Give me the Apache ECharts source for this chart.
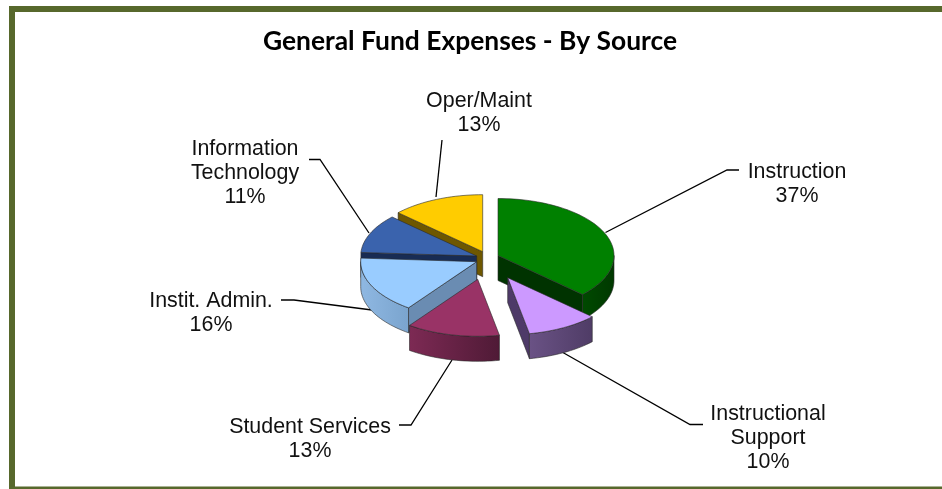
<!DOCTYPE html>
<html>
<head>
<meta charset="utf-8">
<style>html,body{margin:0;padding:0;background:#fff}#chart{width:942px;height:489px}</style>
<script src="https://cdn.jsdelivr.net/npm/echarts@6/dist/echarts.min.js"></script>
</head>
<body>
<div id="chart"></div>
<script>
// Data, clockwise from twelve o'clock
const categories = ['Instruction', 'Instructional\nSupport', 'Student Services', 'Instit. Admin.', 'Information\nTechnology', 'Oper/Maint'];
const seriesValues = [37, 10, 13, 16, 11, 13];
const titleText = 'General Fund Expenses - By Source';

// Appearance and layout of the hand-built 3D pie
const RX = 116, RY = 57, DEPTH = 25;
const apexes = [[498, 255.5], [507.7, 277.7], [477.7, 279.3], [476.7, 261.7], [476.7, 256], [482.7, 251.7]];
const topColors = ['#008000', '#cc99ff', '#993366', '#99ccff', '#3a63ad', '#ffcc00'];
const wallColors = [['#004a00', '#003800'], ['#6a5285', '#4f3c66'], ['#7d2a54', '#4f1a36'], ['#8fb8e2', '#7aa4ce'], ['#1f3560', '#1a2e56'], ['#6b5500', '#6b5500']];
const cutColors = ['#003300', '#4e3a68', '#5f1f40', '#6a8cb2', '#182c54', '#6e5700'];
const labelAnchors = [[797, 184], [768, 438], [310, 439], [211, 313], [245, 173], [479, 113]];
const leaders = [
  [[605.5, 232.5], [727, 170], [739, 170]],
  [[562, 352], [690, 424.5], [703, 424.5]],
  [[452, 360], [411, 425], [399, 425]],
  [[372, 310], [294, 300], [281, 300]],
  [[369, 233], [320, 159.5], [309, 159.5]],
  [[436, 197], [442, 140]]
];
const drawOrder = [5, 0, 4, 3, 2, 1];

const total = seriesValues.reduce((a, b) => a + b, 0);
const starts = [];
seriesValues.reduce((acc, v, i) => { starts[i] = acc; return acc + v; }, 0);

const rad = d => d * Math.PI / 180;
const edgeStyle = { stroke: 'rgba(40,40,40,0.75)', lineWidth: 0.8 };

function arc(c, t1, t2, dy) {
  const n = Math.max(2, Math.ceil(Math.abs(t2 - t1) / 2));
  const pts = [];
  for (let k = 0; k <= n; k++) {
    const t = rad(t1 + (t2 - t1) * k / n);
    pts.push([c[0] + RX * Math.cos(t), c[1] + RY * Math.sin(t) + dy]);
  }
  return pts;
}
function poly(points, fill) {
  return { type: 'polygon', shape: { points }, style: Object.assign({ fill }, edgeStyle) };
}
function cut(c, t, fill) {
  const e = [c[0] + RX * Math.cos(rad(t)), c[1] + RY * Math.sin(rad(t))];
  return poly([c, e, [e[0], e[1] + DEPTH], [c[0], c[1] + DEPTH]], fill);
}

function renderItem(params, api) {
  const i = api.value(2);
  const t1 = -90 + api.value(1) / total * 360;
  const t2 = t1 + api.value(0) / total * 360;
  const c = apexes[i];
  const children = [];
  // Leader below the slice
  children.push({ type: 'polyline', shape: { points: leaders[i] }, style: { fill: 'none', stroke: '#000', lineWidth: 1.3 } });
  // Cut faces that look toward the viewer
  if (Math.cos(rad(t1)) < -0.001) children.push(cut(c, t1, cutColors[i]));
  if (Math.cos(rad(t2)) > 0.001) children.push(cut(c, t2, cutColors[i]));
  // Outer rim: only the front half of the ellipse
  const a = Math.max(t1, 0), b = Math.min(t2, 180);
  if (b > a) {
    const top = arc(c, a, b, 0), bot = arc(c, a, b, DEPTH).reverse();
    const wall = poly(top.concat(bot), {
      type: 'linear', x: 0, y: 0, x2: 1, y2: 0,
      colorStops: [{ offset: 0, color: wallColors[i][0] }, { offset: 1, color: wallColors[i][1] }]
    });
    children.push(wall);
  }
  // Top face
  children.push(poly([c].concat(arc(c, t1, t2, 0)), topColors[i]));
  // Label
  children.push({
    type: 'text',
    style: {
      text: categories[i] + '\n' + api.value(0) + '%',
      x: labelAnchors[i][0], y: labelAnchors[i][1],
      align: 'center', verticalAlign: 'middle',
      font: '21.4px "Liberation Sans", Arial, sans-serif',
      lineHeight: 24, fill: '#111'
    }
  });
  return { type: 'group', children };
}

const chart = echarts.init(document.getElementById('chart'));
chart.setOption({
  animation: false,
  backgroundColor: '#ffffff',
  title: {
    text: titleText, left: 465, top: 23, textAlign: 'center',
    textStyle: { fontFamily: 'Lato', fontWeight: 700, fontSize: 26.4, color: '#000' }
  },
  graphic: [
    { type: 'rect', silent: true, shape: { x: 9, y: 6, width: 933, height: 6 }, style: { fill: '#57682c' } },
    { type: 'rect', silent: true, shape: { x: 9, y: 6, width: 6, height: 483 }, style: { fill: '#57682c' } },
    { type: 'rect', silent: true, shape: { x: 9, y: 486.5, width: 933, height: 2.5 }, style: { fill: '#57682c' } }
  ],
  series: [{
    type: 'custom',
    coordinateSystem: 'none',
    silent: true,
    renderItem,
    data: drawOrder.map(i => [seriesValues[i], starts[i], i])
  }]
});
</script>
</body>
</html>
